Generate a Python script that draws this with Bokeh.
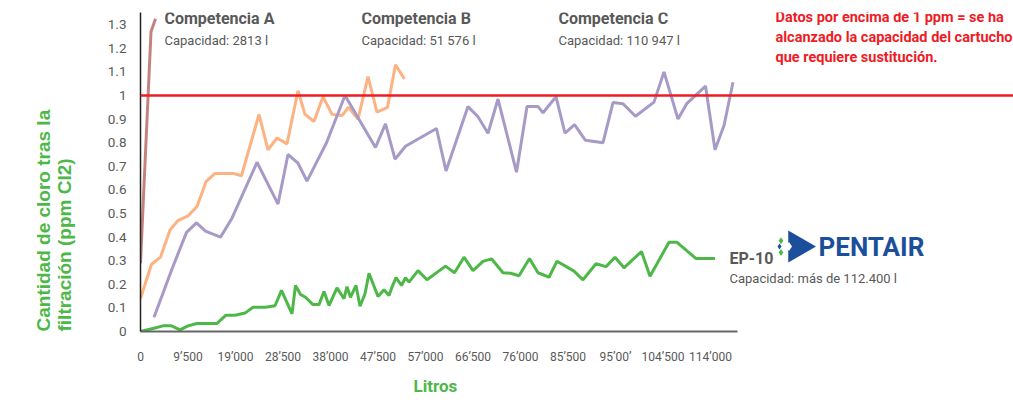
import math
from bokeh.plotting import figure
from bokeh.models import Span, Label, FixedTicker, Title
from bokeh.embed import file_html
from bokeh.resources import INLINE

# ---- data (litros, ppm Cl2) ----
a_x = [0, 2100, 3000]
a_y = [0.29, 1.27, 1.325]

b_x = [0, 2200, 4000, 5900, 7500, 9500, 11300, 13100, 14900, 18500, 20200, 23700, 25500, 27300,
       29300, 31500, 32900, 34700, 36500, 38300, 40300, 41600, 43500, 45500, 47300, 49400, 51000, 52800]
b_y = [0.14, 0.285, 0.315, 0.43, 0.47, 0.49, 0.53, 0.635, 0.67, 0.67, 0.66, 0.92, 0.77, 0.82,
       0.795, 1.02, 0.92, 0.89, 0.995, 0.92, 0.915, 0.95, 0.9, 1.08, 0.93, 0.95, 1.13, 1.07]

c_x = [2700, 6300, 9200, 11200, 13000, 16000, 18300, 23300, 27500, 29500, 31500, 33300, 37200, 40900,
       47000, 49000, 50900, 53000, 59200, 61100, 65500, 67500, 69500, 71500, 75200, 77300, 79500, 80500,
       83100, 84900, 86800, 89000, 92500, 94500, 96500, 99000, 102700, 104700, 107500, 109300, 113000,
       114900, 116700, 118500]
c_y = [0.06, 0.265, 0.42, 0.46, 0.425, 0.40, 0.48, 0.717, 0.54, 0.75, 0.713, 0.637, 0.80, 1.0,
       0.78, 0.88, 0.73, 0.785, 0.86, 0.68, 0.953, 0.91, 0.84, 0.985, 0.675, 0.953, 0.953, 0.927,
       0.995, 0.84, 0.877, 0.81, 0.80, 0.97, 0.965, 0.912, 0.972, 1.10, 0.90, 0.967, 1.04,
       0.77, 0.873, 1.056]

ep_x = [0, 2700, 4500, 6200, 7900, 9500, 11300, 15300, 17100, 18900, 20900, 22500, 25000, 26900,
        28200, 30300, 31000, 32000, 33000, 34500, 35700, 36700, 37700, 39300, 40700, 41300, 42000,
        43100, 43900, 44900, 45700, 47500, 48700, 49700, 50300, 51100, 52200, 53000, 53700, 55500,
        57300, 61000, 62800, 64700, 66500, 68500, 70200, 72500, 74000, 75700, 77800, 79500, 81700,
        83300, 86700, 88500, 91100, 93100, 94900, 96700, 100200, 101900, 105700, 107300, 111100, 114900]
ep_y = [0.0, 0.014, 0.024, 0.024, 0.007, 0.024, 0.034, 0.034, 0.069, 0.069, 0.078, 0.103, 0.103, 0.109,
        0.174, 0.075, 0.195, 0.157, 0.145, 0.114, 0.114, 0.169, 0.11, 0.185, 0.139, 0.19, 0.145,
        0.195, 0.107, 0.16, 0.247, 0.148, 0.177, 0.153, 0.188, 0.228, 0.195, 0.228, 0.209, 0.258,
        0.219, 0.277, 0.249, 0.315, 0.258, 0.297, 0.308, 0.249, 0.247, 0.236, 0.309, 0.249, 0.23,
        0.298, 0.256, 0.219, 0.287, 0.275, 0.315, 0.27, 0.339, 0.234, 0.378, 0.378, 0.309, 0.309]

x_ticks = [0, 9500, 19000, 28500, 38000, 47500, 57000, 66500, 76000, 85500, 95000, 104500, 114000]
x_tick_labels = ["0", "9’500", "19’000", "28’500", "38’000", "47’500", "57’000", "66’500",
                 "76’000", "85’500", "95’00’", "104’500", "114’000"]
y_ticks = [0, 0.1, 0.2, 0.3, 0.4, 0.5, 0.6, 0.7, 0.8, 0.9, 1.0, 1.1, 1.2, 1.3]
y_tick_labels = ["0", "0.1", "0.2", "0.3", "0.4", "0.5", "0.6", "0.7", "0.8", "0.9", "1", "1.1", "1.2", "1.3"]

limit_ppm = 1.0

GREEN = "#4DB848"
GRAY = "#595959"
FONT = "Roboto"

p = figure(width=1013, height=404, output_backend="svg", toolbar_location=None,
           x_range=(0, 174600), y_range=(0, 1.3517),
           min_border_left=140, min_border_right=0, min_border_top=12, min_border_bottom=73)
p.outline_line_color = None
p.grid.visible = False
p.background_fill_color = "white"
p.border_fill_color = "white"

p.line(a_x, a_y, line_color="#C4827F", line_width=3)
p.line(b_x, b_y, line_color="#FDB282", line_width=3)
p.line(c_x, c_y, line_color="#A79AC6", line_width=3)
p.line(ep_x, ep_y, line_color=GREEN, line_width=3)

p.add_layout(Span(location=limit_ppm, dimension="width", line_color="#EE1C25", line_width=2.5))

# axes
xa = p.xaxis[0]
xa.ticker = FixedTicker(ticks=x_ticks)
xa.major_label_overrides = {t: l for t, l in zip(x_ticks, x_tick_labels)}
xa.bounds = (0, 119400)
xa.axis_line_color = "#666666"
xa.axis_line_width = 2
xa.major_tick_line_color = None
xa.minor_tick_line_color = None
xa.major_label_standoff = 12
xa.major_label_text_font = FONT
xa.major_label_text_font_size = "12px"
xa.major_label_text_color = GRAY

ya = p.yaxis[0]
ya.ticker = FixedTicker(ticks=y_ticks)
ya.major_label_overrides = {t: l for t, l in zip(y_ticks, y_tick_labels)}
ya.axis_line_color = "#222222"
ya.axis_line_width = 1.5
ya.major_tick_line_color = None
ya.minor_tick_line_color = None
ya.major_label_standoff = 8
ya.major_label_text_font = FONT
ya.major_label_text_font_size = "13.5px"
ya.major_label_text_color = GRAY


def lab(text, x, y, size, color=GRAY, font=FONT, style="normal", **kw):
    p.add_layout(Label(text=text, x=x, y=y, text_font=font, text_font_size=size,
                       text_color=color, text_font_style=style, text_baseline="middle", **kw))


# series titles
lab("Competencia A", 4800, 1.326, "16px", style="bold")
lab("Capacidad: 2813 l", 4800, 1.233, "13px")
lab("Competencia B", 44200, 1.326, "16px", style="bold")
lab("Capacidad: 51 576 l", 44200, 1.233, "13px")
lab("Competencia C", 83600, 1.326, "16px", style="bold")
lab("Capacidad: 110 947 l", 83600, 1.233, "13px")
lab("EP-10", 117800, 0.309, "16px", style="bold")
lab("Capacidad: más de 112.400 l", 117800, 0.225, "13px")

# warning note
for i, t in enumerate(["Datos por encima de 1 ppm = se ha",
                       "alcanzado la capacidad del cartucho",
                       "que requiere sustitución."]):
    lab(t, 127000, 1.331 - i * 0.085, "14.5px", color="#EE1C25", style="bold")

# Pentair logo (approximation)
BLUE = "#1B4F9C"
p.scatter([131400], [0.36], marker="triangle", size=32, angle=-math.pi / 2,
          fill_color=BLUE, line_color=None)
p.scatter([129700], [0.36], marker="diamond", size=9, fill_color="white", line_color=None)
p.scatter([128100, 128100], [0.385, 0.335], marker="diamond", size=7, fill_color=GREEN, line_color=None)
p.scatter([127800], [0.36], marker="diamond", size=6, fill_color=BLUE, line_color=None)
lab("PENTAIR", 135600, 0.36, "26px", color=BLUE, style="bold")

# axis titles
p.add_layout(Title(text="Litros", align="left", offset=273, standoff=14,
                   text_font=FONT, text_font_style="bold", text_font_size="17px",
                   text_color=GREEN), "below")
p.add_layout(Title(text="Cantidad de cloro tras la\nfiltración (ppm Cl2)", align="left", offset=0,
                   standoff=60, text_font="Liberation Sans", text_font_style="bold",
                   text_font_size="19px", text_color=GREEN), "left")

open("out.html", "w").write(file_html(p, INLINE))
